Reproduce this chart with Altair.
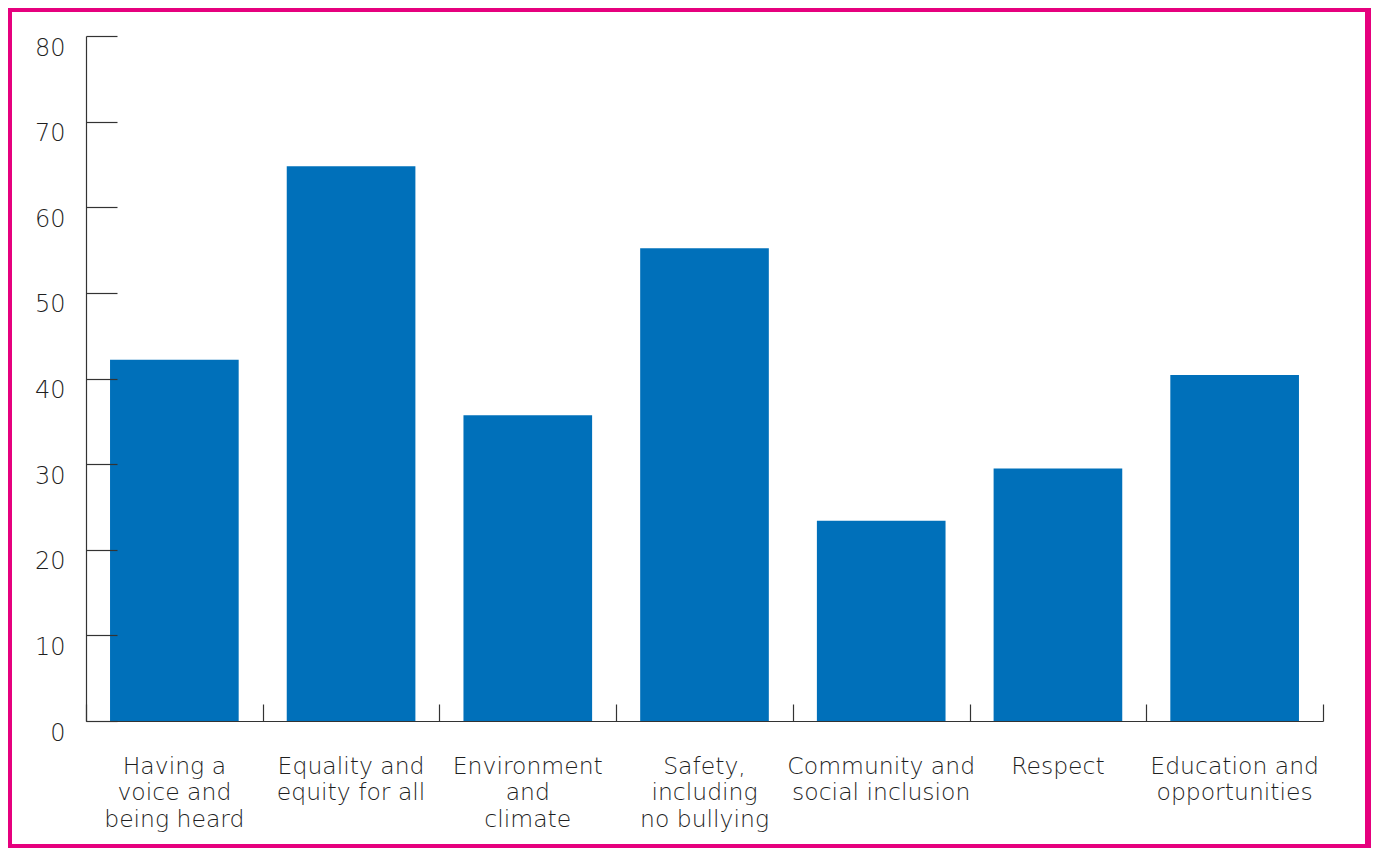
import altair as alt
import pandas as pd

categories = [
    "Having a|voice and|being heard",
    "Equality and|equity for all",
    "Environment|and|climate",
    "Safety,|including|no bullying",
    "Community and|social inclusion",
    "Respect",
    "Education and|opportunities",
]
values = [42.2, 64.8, 35.7, 55.2, 23.4, 29.5, 40.4]
y_ticks = [0, 10, 20, 30, 40, 50, 60, 70, 80]

df = pd.DataFrame({"cat": categories, "val": values})

W, H = 1237, 685
FONT = "DejaVu Sans"
INK = "#333333"
TXT = "#1f1f1f"

xscale = alt.Scale(domain=categories, paddingInner=0.272, paddingOuter=0.136)
xscale_ticks = alt.Scale(domain=categories, paddingInner=0, paddingOuter=0)
yscale = alt.Scale(domain=[0, 80], nice=False)

base = alt.Chart(df)

frame = base.mark_rect(color="white", clip=False).encode(
    x=alt.value(-74), x2=alt.value(1279), y=alt.value(-24), y2=alt.value(808)
).transform_filter("datum.cat == 'Respect'")

bars = base.mark_bar(color="#0070BA").encode(
    x=alt.X("cat:N", scale=xscale, sort=categories, axis=alt.Axis(
        title=None, orient="bottom", labelAngle=0, ticks=False, domain=True,
        domainColor=INK, domainWidth=1.2, zindex=2,
        labelExpr="split(datum.value, '|')", labelFont=FONT, labelFontSize=23.5,
        labelFontWeight=200, labelColor=TXT, labelLineHeight=26.5,
        labelBaseline="top", labelPadding=33, labelAlign="center",
        labelLimit=300)),
    y=alt.Y("val:Q", scale=yscale, axis=alt.Axis(
        title=None, orient="left", values=y_ticks, ticks=False, grid=False,
        domain=True, domainColor=INK, domainWidth=1.2, zindex=2,
        labelFont=FONT, labelFontSize=24, labelFontWeight=200,
        labelColor=TXT, labelBaseline="top", labelPadding=21, labelOffset=0)),
)

ticks_layer = base.mark_bar(opacity=0).encode(
    x=alt.X("cat:N", scale=xscale_ticks, sort=categories, axis=alt.Axis(
        title=None, orient="top", offset=-H, labels=False, domain=False,
        ticks=True, tickBand="extent", tickSize=17, tickColor=INK,
        tickWidth=1.2, grid=False, zindex=2)),
    y=alt.Y("val:Q", scale=yscale, axis=alt.Axis(
        title=None, orient="right", offset=-W, values=y_ticks, labels=False,
        domain=False, ticks=True, tickSize=31, tickColor=INK, tickWidth=1.2,
        grid=False, zindex=2)),
)

chart = alt.layer(frame, bars, ticks_layer).resolve_scale(
    x="independent", y="independent"
).properties(
    width=W, height=H,
    autosize=alt.AutoSizeParams(type="none"),
    padding={"left": 78, "top": 28, "right": 48, "bottom": 127},
    background="#E6007E",
).configure_view(stroke=None)

chart.save("out.html", embed_options={"renderer": "svg", "actions": False})
